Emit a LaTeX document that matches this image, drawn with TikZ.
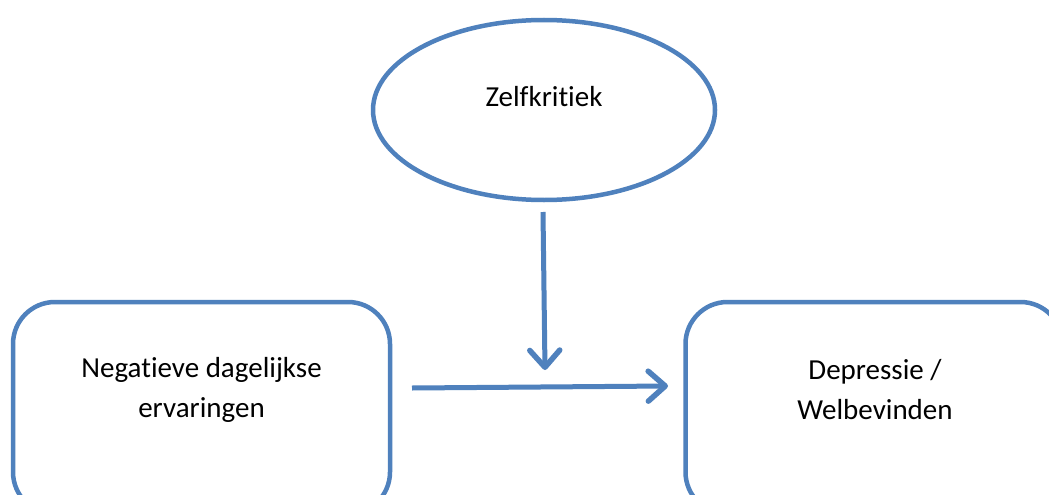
\documentclass[tikz,border=0pt]{standalone}
\usepackage{fontspec}
\setmainfont{Carlito}[Ligatures=NoCommon]
\usetikzlibrary{shapes.geometric,arrows.meta}
\definecolor{wordblue}{RGB}{79,129,189}
\tikzset{
  shapeline/.style={draw=wordblue, line width=4.5pt},
  boxnode/.style={shapeline, rectangle, rounded corners=42pt, minimum width=377pt, minimum height=212pt, inner sep=0pt},
  ellnode/.style={shapeline, ellipse, minimum width=342pt, minimum height=180pt, inner sep=0pt},
  txt/.style={font=\fontsize{29pt}{40pt}\selectfont, align=center, text=black},
  conn/.style={draw=wordblue, line width=5pt, -{Straight Barb[length=17pt,width=30pt,line width=5.5pt,round]}}
}
\begin{document}
\begin{tikzpicture}[x=1pt,y=-1pt]
\fill[white] (0,0) rectangle (1049,495);
\useasboundingbox (0,0) rectangle (1049,495);
\clip (0,0) rectangle (1049,495);
\node[ellnode] (z) at (544,110) {};
\node[txt] (zt) at (544,97) {Zelfkritiek};
\node[boxnode] (n) at (201.5,408) {};
\node[txt] (nt) at (201.5,390) {Negatieve dagelijkse\\ervaringen};
\node[boxnode] (d) at (874,408) {};
\node[txt] (dt) at (875,390) {Depressie /\\Welbevinden};
\coordinate (hs) at (412,388);
\coordinate (he) at (668,386);
\coordinate (vs) at (543,212);
\coordinate (ve) at (545,370);
\draw[conn] (hs) -- (he);
\draw[conn] (vs) -- (ve);
\end{tikzpicture}
\end{document}
